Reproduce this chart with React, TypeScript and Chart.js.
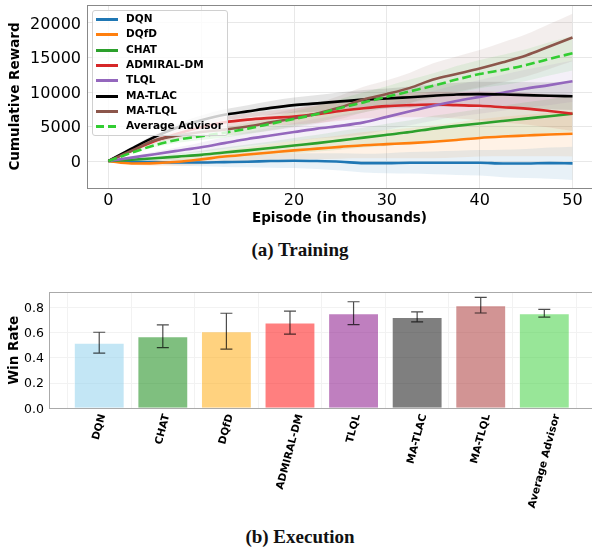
import React, { useEffect, useRef } from 'react';
import { Chart, registerables } from 'chart.js';

Chart.register(...registerables);

// ---------- Training (top) data ----------
const episodes = [0, 2.5, 5, 7.5, 10, 12.5, 15, 17.5, 20, 22.5, 25, 27.5, 30, 32.5, 35, 37.5, 40, 42.5, 45, 47.5, 50];

const dqn = [0, -100, -150, -200, -200, -150, -100, 0, 50, 0, -100, -300, -300, -250, -250, -250, -250, -350, -350, -300, -330];
const dqfd = [0, -350, -300, -100, 250, 650, 950, 1250, 1550, 1800, 2050, 2300, 2450, 2600, 2800, 3050, 3350, 3550, 3700, 3850, 3960];
const chat = [0, 200, 400, 650, 900, 1250, 1550, 1900, 2250, 2600, 3000, 3400, 3800, 4200, 4700, 5100, 5450, 5800, 6150, 6500, 6850];
const admiral = [0, 1500, 2900, 4000, 4900, 5600, 6000, 6250, 6450, 6800, 7250, 7650, 7950, 8100, 8200, 8100, 8000, 7800, 7600, 7250, 6850];
const tlql = [0, 500, 1000, 1500, 2000, 2600, 3200, 3700, 4200, 4700, 5100, 5600, 6400, 7200, 8000, 8700, 9300, 9900, 10500, 11000, 11550];
const matlac = [0, 1800, 3500, 4900, 5900, 6700, 7200, 7700, 8100, 8350, 8650, 8900, 9050, 9250, 9450, 9650, 9700, 9650, 9550, 9450, 9380];
const matlql = [0, 1500, 3000, 3700, 4200, 4550, 5000, 5600, 6200, 6900, 7800, 8900, 9700, 10600, 11800, 12600, 13400, 14300, 15300, 16600, 17900];
const avgAdvisor = [0, 1200, 2300, 3100, 3600, 4100, 4700, 5400, 6100, 6800, 7700, 8500, 9300, 10100, 10900, 11800, 12600, 13200, 13900, 14800, 15600];

// half-widths of the shaded bands
const dqnSpread = [0, 150, 300, 450, 550, 700, 800, 950, 1050, 1150, 1250, 1350, 1450, 1550, 1650, 1750, 1850, 2000, 2100, 2250, 2400];
const dqfdSpread = [0, 200, 400, 600, 750, 900, 1050, 1250, 1400, 1550, 1700, 1900, 2050, 2200, 2400, 2550, 2700, 2850, 3000, 3150, 3300];
const chatSpread = [0, 150, 300, 450, 600, 700, 850, 950, 1100, 1200, 1350, 1450, 1600, 1700, 1850, 1950, 2100, 2200, 2350, 2450, 2600];
const admiralSpread = [0, 200, 350, 500, 650, 800, 900, 1050, 1150, 1300, 1400, 1500, 1650, 1750, 1850, 1950, 2100, 2200, 2300, 2400, 2500];
const tlqlSpread = [0, 200, 350, 500, 700, 850, 1000, 1150, 1300, 1450, 1600, 1750, 1850, 2000, 2150, 2300, 2450, 2600, 2750, 2900, 3000];
const matlacSpread = [0, 250, 400, 550, 700, 800, 900, 1000, 1100, 1200, 1300, 1400, 1450, 1550, 1650, 1700, 1800, 1850, 1900, 1950, 2000];
const matlqlSpread = [0, 200, 350, 550, 700, 850, 1000, 1200, 1350, 1500, 1700, 1850, 2000, 2200, 2350, 2550, 2700, 2900, 3050, 3250, 3450];
const avgSpread = [0, 150, 300, 450, 550, 700, 800, 950, 1100, 1200, 1300, 1450, 1550, 1700, 1800, 1950, 2050, 2200, 2300, 2400, 2500];

const seriesNames = ['DQN', 'DQfD', 'CHAT', 'ADMIRAL-DM', 'TLQL', 'MA-TLAC', 'MA-TLQL', 'Average Advisor'];
const seriesValues = [dqn, dqfd, chat, admiral, tlql, matlac, matlql, avgAdvisor];
const seriesSpreads = [dqnSpread, dqfdSpread, chatSpread, admiralSpread, tlqlSpread, matlacSpread, matlqlSpread, avgSpread];
const seriesColors = ['#1f77b4', '#ff7f0e', '#2ca02c', '#d62728', '#9467bd', '#000000', '#8c564b', '#32cd32'];
const seriesBands = ['rgba(31,119,180,0.1)', 'rgba(255,127,14,0.1)', 'rgba(44,160,44,0.1)', 'rgba(214,39,40,0.1)', 'rgba(148,103,189,0.1)', 'rgba(0,0,0,0.1)', 'rgba(140,86,75,0.1)', 'rgba(50,205,50,0.1)'];
const seriesDashed = [false, false, false, false, false, false, false, true];

const topXTicks = [0, 10, 20, 30, 40, 50];
const topYTicks = [0, 5000, 10000, 15000, 20000];

// ---------- Execution (bottom) data ----------
const barLabels = ['DQN', 'CHAT', 'DQfD', 'ADMIRAL-DM', 'TLQL', 'MA-TLAC', 'MA-TLQL', 'Average Advisor'];
const winRate = [0.52, 0.572, 0.612, 0.68, 0.754, 0.725, 0.818, 0.754];
const winRateErr = [0.083, 0.09, 0.142, 0.091, 0.091, 0.039, 0.062, 0.031];
const barColors = ['rgba(135,206,235,0.5)', 'rgba(0,128,0,0.5)', 'rgba(255,165,0,0.5)', 'rgba(255,0,0,0.5)', 'rgba(128,0,128,0.5)', 'rgba(0,0,0,0.5)', 'rgba(165,42,42,0.5)', 'rgba(50,205,50,0.5)'];
const barYTicks = [0, 0.2, 0.4, 0.6, 0.8];

const FONT = '"DejaVu Sans", sans-serif';

function topSpine(color: string) {
  return {
    id: 'topSpine',
    afterDraw(chart: any) {
      const { ctx, chartArea } = chart;
      ctx.save();
      ctx.strokeStyle = color;
      ctx.lineWidth = 1;
      ctx.beginPath();
      ctx.moveTo(chartArea.left, Math.round(chartArea.top) + 0.5);
      ctx.lineTo(chartArea.right, Math.round(chartArea.top) + 0.5);
      ctx.stroke();
      ctx.restore();
    },
  };
}

const errorBarPlugin = {
  id: 'errorBars',
  afterDatasetsDraw(chart: any) {
    const { ctx } = chart;
    const xs = chart.scales.x;
    const ys = chart.scales.y;
    ctx.save();
    ctx.strokeStyle = 'rgba(0,0,0,0.7)';
    ctx.lineWidth = 1.2;
    winRate.forEach((v, i) => {
      const x = xs.getPixelForValue(i);
      const y1 = ys.getPixelForValue(v + winRateErr[i]);
      const y2 = ys.getPixelForValue(v - winRateErr[i]);
      ctx.beginPath();
      ctx.moveTo(x, y1);
      ctx.lineTo(x, y2);
      ctx.moveTo(x - 6, y1);
      ctx.lineTo(x + 6, y1);
      ctx.moveTo(x - 6, y2);
      ctx.lineTo(x + 6, y2);
      ctx.stroke();
    });
    ctx.restore();
  },
};

const barLabelPlugin = {
  id: 'barLabels',
  afterDraw(chart: any) {
    const { ctx } = chart;
    const xs = chart.scales.x;
    const th = (75 * Math.PI) / 180;
    const size = 10.5;
    const h = size * 1.16;
    ctx.save();
    ctx.font = `bold ${size}px ${FONT}`;
    ctx.fillStyle = '#000';
    barLabels.forEach((lab, i) => {
      const px = xs.getPixelForValue(i);
      const L = ctx.measureText(lab).width;
      const H = L * Math.sin(th) + h * Math.cos(th);
      const cy = xs.top + 4.5 + H / 2;
      ctx.save();
      ctx.translate(px, cy);
      ctx.rotate(-th);
      ctx.textAlign = 'center';
      ctx.textBaseline = 'middle';
      ctx.fillText(lab, 0, 0);
      ctx.restore();
    });
    ctx.restore();
  },
};

export default function App() {
  const topRef = useRef<HTMLCanvasElement>(null);
  const botRef = useRef<HTMLCanvasElement>(null);

  useEffect(() => {
    const datasets: any[] = [];
    seriesNames.forEach((name, i) => {
      const lowerIdx = datasets.length;
      datasets.push({
        label: name + ' lower',
        data: episodes.map((x, j) => ({ x, y: seriesValues[i][j] - seriesSpreads[i][j] })),
        borderWidth: 0,
        pointRadius: 0,
        fill: false,
        order: 100,
        cubicInterpolationMode: 'monotone',
      });
      datasets.push({
        label: name + ' upper',
        data: episodes.map((x, j) => ({ x, y: seriesValues[i][j] + seriesSpreads[i][j] })),
        borderWidth: 0,
        pointRadius: 0,
        fill: lowerIdx,
        backgroundColor: seriesBands[i],
        order: 100,
        cubicInterpolationMode: 'monotone',
      });
    });
    seriesNames.forEach((name, i) => {
      datasets.push({
        label: name,
        data: episodes.map((x, j) => ({ x, y: seriesValues[i][j] })),
        borderColor: seriesColors[i],
        backgroundColor: seriesColors[i],
        borderWidth: 2.6,
        borderDash: seriesDashed[i] ? [9, 4] : [],
        pointRadius: 0,
        fill: false,
        order: 50 - i,
        cubicInterpolationMode: 'monotone',
      });
    });

    const top = new Chart(topRef.current as HTMLCanvasElement, {
      type: 'line',
      data: { datasets },
      options: {
        responsive: false,
        animation: false,
        devicePixelRatio: 1,
        layout: { padding: { top: 5, right: 0, left: 0, bottom: 0 } },
        plugins: { legend: { display: false }, tooltip: { enabled: false } },
        scales: {
          x: {
            type: 'linear',
            min: -2.3,
            max: 52.1,
            afterBuildTicks: (s: any) => { s.ticks = topXTicks.map((v) => ({ value: v })); },
            afterFit: (s: any) => { s.height = 42; s.paddingLeft = 0; s.paddingRight = 0; },
            grid: { color: '#e8e8e8', drawTicks: false },
            border: { color: '#888', width: 1 },
            ticks: { padding: 3, color: '#000', font: { family: FONT, size: 16 }, callback: (v: any) => String(v) },
            title: { display: true, text: 'Episode (in thousands)', color: '#000', font: { family: FONT, size: 13.5, weight: 'bold' }, padding: { top: 0, bottom: 3 } },
          },
          y: {
            type: 'linear',
            min: -3900,
            max: 22600,
            afterBuildTicks: (s: any) => { s.ticks = topYTicks.map((v) => ({ value: v })); },
            afterFit: (s: any) => { s.width = 87; s.paddingTop = 0; s.paddingBottom = 0; },
            grid: { color: '#e8e8e8', drawTicks: false },
            border: { color: '#888', width: 1 },
            ticks: { padding: 6, labelOffset: 1.5, color: '#000', font: { family: FONT, size: 16 }, callback: (v: any) => String(v) },
            title: { display: true, text: 'Cumulative Reward', color: '#000', font: { family: FONT, size: 13.5, weight: 'bold' }, padding: { top: 7, bottom: 0 } },
          },
        },
      } as any,
      plugins: [topSpine('#888')],
    });

    const bottom = new Chart(botRef.current as HTMLCanvasElement, {
      type: 'bar',
      data: {
        datasets: [
          {
            label: 'Win Rate',
            data: winRate.map((v, i) => ({ x: i, y: v })),
            backgroundColor: barColors,
            borderColor: 'rgba(255,255,255,0.6)',
            borderWidth: 1,
            barPercentage: 0.8,
            categoryPercentage: 1.0,
          },
        ],
      },
      options: {
        responsive: false,
        animation: false,
        devicePixelRatio: 1,
        layout: { padding: { top: 12.3, right: 0, left: 0, bottom: 0 } },
        plugins: { legend: { display: false }, tooltip: { enabled: false } },
        scales: {
          x: {
            type: 'linear',
            min: -0.79,
            max: 7.75,
            offset: false,
            afterBuildTicks: (s: any) => { s.ticks = barLabels.map((_, i) => ({ value: i })); },
            afterFit: (s: any) => { s.height = 111.7; s.paddingLeft = 0; s.paddingRight = 0; },
            grid: { color: '#f2f2f2', drawTicks: false },
            border: { color: '#aaa', width: 1 },
            ticks: { display: false },
          },
          y: {
            type: 'linear',
            min: 0,
            max: 0.92,
            afterBuildTicks: (s: any) => { s.ticks = barYTicks.map((v) => ({ value: v })); },
            afterFit: (s: any) => { s.width = 49; s.paddingTop = 0; s.paddingBottom = 0; },
            grid: { color: '#f2f2f2', drawTicks: false },
            border: { color: '#aaa', width: 1 },
            ticks: { padding: 5, labelOffset: 1, color: '#000', font: { family: FONT, size: 12.5 }, callback: (v: any) => Number(v).toFixed(1) },
            title: { display: true, text: 'Win Rate', color: '#000', font: { family: FONT, size: 13.5, weight: 'bold' }, padding: { top: 6, bottom: 0 } },
          },
        },
      } as any,
      plugins: [topSpine('#aaa'), errorBarPlugin, barLabelPlugin],
    });

    return () => {
      top.destroy();
      bottom.destroy();
    };
  }, []);

  const rowTop = (i: number) => Math.round(19 + i * 15.3);

  return (
    <div style={{ position: 'absolute', left: 0, top: 0, width: 592, height: 550, background: '#fff', overflow: 'hidden' }}>
      <canvas ref={topRef} width={592} height={230} style={{ position: 'absolute', left: 0, top: 0, display: 'block' }} />
      <div
        style={{
          position: 'absolute',
          left: 92,
          top: 10,
          width: 136,
          height: 126,
          boxSizing: 'border-box',
          background: 'rgba(255,255,255,0.8)',
          border: '1px solid #d0d0d0',
          borderRadius: 3,
        }}
      />
      {seriesNames.map((name, i) => (
        <React.Fragment key={name}>
          <div
            style={{
              position: 'absolute',
              left: 96,
              top: rowTop(i) - 1,
              width: 22,
              height: 3,
              background: seriesDashed[i]
                ? `repeating-linear-gradient(to right, ${seriesColors[i]} 0px, ${seriesColors[i]} 8px, transparent 8px, transparent 12px)`
                : seriesColors[i],
            }}
          />
          <div
            style={{
              position: 'absolute',
              left: 126,
              top: rowTop(i) - 7,
              height: 14,
              lineHeight: '14px',
              font: `bold 10.5px ${FONT}`,
              color: '#000',
              whiteSpace: 'nowrap',
            }}
          >
            {name}
          </div>
        </React.Fragment>
      ))}
      <div
        style={{
          position: 'absolute',
          left: 0,
          top: 239.5,
          width: 600,
          textAlign: 'center',
          font: 'bold 19px "Liberation Serif", serif',
          lineHeight: '19px',
          color: '#111',
        }}
      >
        (a) Training
      </div>
      <canvas ref={botRef} width={592} height={240} style={{ position: 'absolute', left: 0, top: 280, display: 'block' }} />
      <div
        style={{
          position: 'absolute',
          left: 0,
          top: 527,
          width: 600,
          textAlign: 'center',
          font: 'bold 19px "Liberation Serif", serif',
          lineHeight: '19px',
          color: '#111',
        }}
      >
        (b) Execution
      </div>
    </div>
  );
}
